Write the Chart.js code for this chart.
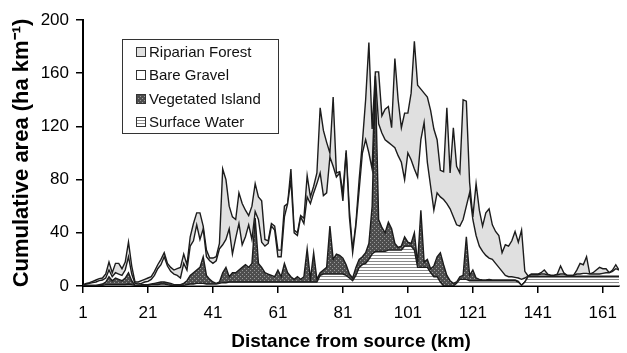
<!DOCTYPE html>
<html>
<head>
<meta charset="utf-8">
<script src="https://cdn.jsdelivr.net/npm/chart.js@4/dist/chart.umd.min.js"></script>
<style>
  html, body { margin: 0; padding: 0; background: #fff; }
  #chart { display: block; }
</style>
</head>
<body>
<canvas id="chart" width="627" height="353"></canvas>
<script>
// distance from source, one reading per km
var km = Array.from({ length: 166 }, function (_, i) { return i + 1; });
var xTicks = [1, 21, 41, 61, 81, 101, 121, 141, 161];

// cumulative area at the top of each layer (ha km-1)
var waterTop = [
  0, 0.5, 0.5, 0.5, 0.5, 0.5, 0.5, 1, 1, 1,
  1, 1, 1, 1, 1.5, 1, 0.5, 0.5, 0.5, 0.5,
  0.5, 1, 1, 1, 1.5, 1.5, 1, 0.5, 0.5, 0.5,
  0.5, 0.5, 1, 1.5, 1.5, 2, 2, 2, 1.5, 1.5,
  1.5, 1.5, 2, 2.5, 2.5, 3, 3, 3, 3, 3,
  3, 3, 3, 3, 3, 3, 3, 3, 3, 3,
  3, 3, 3, 3, 3, 3, 3, 3, 3, 3,
  3, 3, 3, 8, 9, 9, 9, 9, 9, 9,
  9, 8, 6, 4, 8, 14, 16, 17, 20, 24,
  26, 26, 26, 26, 27, 27, 27, 27, 27, 30,
  30, 30, 27, 14, 14, 14, 14, 10, 7, 7,
  3, 0, 0, 0, 0, 2, 5, 5, 5, 4,
  4, 4, 4, 4, 4, 4, 4, 4, 4, 4,
  4, 4, 4, 4, 3, 0.5, 3, 7, 7, 7,
  7, 7, 7, 7, 7, 7, 7, 7, 7, 7,
  7, 7, 7, 7, 7, 7, 7, 7, 7, 7,
  7, 7, 7, 7, 7, 7
];
var islandTop = [
  0, 0.5, 0.5, 0.5, 0.5, 1, 1.5, 3, 7, 4,
  6, 5, 4, 6, 10, 4, 0.5, 0.5, 1, 1,
  1, 1.5, 2, 2.5, 3, 3, 2.5, 2, 1, 1,
  1, 2, 4, 8, 10, 12, 14, 22, 8, 5,
  3, 2, 3, 10, 14, 7, 10, 10, 12, 14,
  16, 14, 17, 51, 17, 14, 10, 9, 8, 7,
  12, 7, 17, 10, 7, 5, 7, 5, 7, 28,
  5, 25, 5, 10, 12, 14, 45, 20, 24, 23,
  21, 16, 9, 6, 14, 20, 22, 25, 32, 60,
  155, 50, 44, 40, 48, 43, 32, 29, 30, 37,
  33, 32, 40, 17, 57, 18, 20, 13, 15, 22,
  25, 16, 8, 4, 2, 3, 7, 8, 37, 8,
  12, 6, 5, 4.5, 4.5, 5, 4.5, 4.5, 4.5, 4.5,
  4.5, 4.5, 4.5, 4.5, 3.5, 0.5, 3, 7.3, 7.3, 7.3,
  7.3, 7.3, 7.3, 7.3, 7.3, 7.3, 7.3, 7.3, 7.3, 7.3,
  7.3, 7.3, 7.3, 7.3, 7.3, 7.3, 7.3, 7.3, 7.3, 7.3,
  7.3, 7.3, 7.3, 7.3, 7.3, 7.3
];
var gravelTop = [
  0.5, 1.5, 2, 2.5, 3, 4, 4.5, 6, 12, 7,
  10, 9, 8, 12, 22, 9, 2, 1.5, 2, 3,
  3.5, 5, 8, 13, 16, 22, 15, 11, 9, 8,
  6, 17, 12, 30, 34, 46, 35, 43, 22, 19,
  17, 19, 28, 31, 35, 43, 24, 36, 47, 31,
  37, 46, 35, 56, 50, 33, 30, 32, 45, 42,
  22, 22, 52, 62, 80, 40, 38, 52, 47, 67,
  62, 70, 77, 85, 68, 70, 97, 90, 82, 85,
  64, 100, 52, 25, 45, 72, 100, 110, 100, 88,
  158, 122, 115, 110, 108, 106, 104, 98, 93, 80,
  100, 95, 88, 82, 110, 123, 93, 75, 57, 70,
  67, 65, 62, 58, 52, 46, 45, 50, 60, 70,
  50, 38, 30, 26, 23, 21, 20, 17, 14, 11,
  8, 7, 7, 6.5, 6, 5, 6, 7.5, 8.5, 8.5,
  8.5, 9, 9, 8.5, 8, 8, 8.5, 9, 9, 8,
  8, 8, 9, 9, 9.5, 9.5, 9, 9, 9, 9,
  9.5, 10, 10, 11, 13, 12
];
var forestTop = [
  1, 2, 2.5, 3.5, 4.5, 5.5, 6, 9, 18, 10,
  17, 17, 13, 18, 33, 15, 3, 3, 4, 5,
  6, 7, 11, 16, 20, 25, 17, 14, 12, 13,
  14, 24, 16, 37, 47, 55, 55, 45, 27, 21,
  21, 22, 32, 88, 80, 60, 52, 50, 70, 62,
  57, 53, 60, 77, 67, 64, 35, 34, 47, 45,
  27, 27, 60, 62, 88, 42, 40, 53, 51, 83,
  67, 75, 85, 134, 117, 108, 100, 142, 85, 86,
  70, 102, 57, 27, 47, 80, 108, 140, 183, 118,
  161, 161, 128, 133, 135, 119, 171, 140, 119, 130,
  130, 145, 184, 151, 148, 145, 142, 132, 118, 110,
  87, 86, 134, 85, 119, 90, 85, 140, 139, 78,
  52, 77, 57, 45, 55, 58, 46, 41, 38, 25,
  31, 30, 34, 41, 33, 42, 11, 7.5, 9, 9,
  9, 10, 12, 9, 8, 8, 9, 15, 10, 8,
  8, 8, 12, 17, 16, 22, 9, 10, 12, 14,
  13, 13, 10, 12, 16, 12
];

var FONT = "'Liberation Sans', Arial, Helvetica, sans-serif";

function makePattern(kind) {
  var c = document.createElement('canvas');
  var g = c.getContext('2d');
  if (kind === 'water') {
    c.width = 4; c.height = 3;
    g.fillStyle = '#ffffff'; g.fillRect(0, 0, 4, 3);
    g.fillStyle = '#8a8a8a'; g.fillRect(0, 0, 4, 1);
  } else if (kind === 'island') {
    c.width = 4; c.height = 4;
    g.fillStyle = '#4e4e4e'; g.fillRect(0, 0, 4, 4);
    g.fillStyle = '#9a9a9a';
    g.fillRect(0, 0, 1, 1);
    g.fillRect(2, 2, 1, 1);
  }
  return g.createPattern(c, 'repeat');
}

function pts(arr) {
  return arr.map(function (v, i) { return { x: km[i], y: v }; });
}

var legendBox = {
  id: 'legendBox',
  afterDraw: function (chart) {
    var ctx = chart.ctx;
    var sets = chart.data.datasets.slice().reverse();
    ctx.save();
    ctx.fillStyle = '#fff';
    ctx.fillRect(122, 39, 156, 94);
    ctx.strokeStyle = '#333';
    ctx.lineWidth = 1;
    ctx.strokeRect(122.5, 39.5, 156, 94);
    ctx.font = '15px ' + FONT;
    ctx.textBaseline = 'middle';
    sets.forEach(function (ds, i) {
      var y = 52 + i * 23.3;
      ctx.fillStyle = ds.backgroundColor;
      ctx.fillRect(136, Math.round(y) - 5, 10, 10);
      ctx.strokeStyle = '#333';
      ctx.strokeRect(136.5, Math.round(y) - 4.5, 9, 9);
      ctx.fillStyle = '#111';
      ctx.fillText(ds.label, 149, y + 1);
    });
    ctx.restore();
  }
};

var line = { borderColor: '#1c1c1c', borderWidth: 1.4, pointRadius: 0, tension: 0 };

new Chart(document.getElementById('chart'), {
  type: 'line',
  data: {
    datasets: [
      Object.assign({ label: 'Surface Water', data: pts(waterTop), fill: 'origin', backgroundColor: makePattern('water') }, line),
      Object.assign({ label: 'Vegetated Island', data: pts(islandTop), fill: '-1', backgroundColor: makePattern('island') }, line),
      Object.assign({ label: 'Bare Gravel', data: pts(gravelTop), fill: '-1', backgroundColor: '#ffffff' }, line),
      Object.assign({ label: 'Riparian Forest', data: pts(forestTop), fill: '-1', backgroundColor: '#e0e0e0' }, line)
    ]
  },
  options: {
    responsive: false,
    animation: false,
    devicePixelRatio: 1,
    layout: { padding: { top: 20, right: 1, left: 0, bottom: 0 } },
    plugins: {
      legend: { display: false },
      tooltip: { enabled: false }
    },
    scales: {
      x: {
        type: 'linear',
        min: 1,
        max: 166,
        afterBuildTicks: function (s) { s.ticks = xTicks.map(function (v) { return { value: v }; }); },
        afterFit: function (s) { s.height = 67; },
        ticks: { color: '#000', font: { family: FONT, size: 17 }, padding: 10, maxRotation: 0, autoSkip: false },
        grid: { drawOnChartArea: false, tickLength: 7, color: '#000', lineWidth: 1.5 },
        border: { color: '#000', width: 2 },
        title: { display: true, text: 'Distance from source (km)', color: '#000', font: { family: FONT, size: 19, weight: 'bold' }, padding: { top: 0, bottom: 0 } }
      },
      y: {
        min: 0,
        max: 200,
        afterFit: function (s) { s.width = 83; },
        ticks: { stepSize: 40, color: '#000', font: { family: FONT, size: 17 }, padding: 7 },
        grid: { drawOnChartArea: false, tickLength: 7, color: '#000', lineWidth: 1.5 },
        border: { color: '#000', width: 2 },
        title: { display: true, text: 'Cumulative area (ha km\u207B\u00B9)', color: '#000', font: { family: FONT, size: 22, weight: 'bold' }, padding: { top: 9, bottom: 0 } }
      }
    }
  },
  plugins: [legendBox]
});
</script>
</body>
</html>
